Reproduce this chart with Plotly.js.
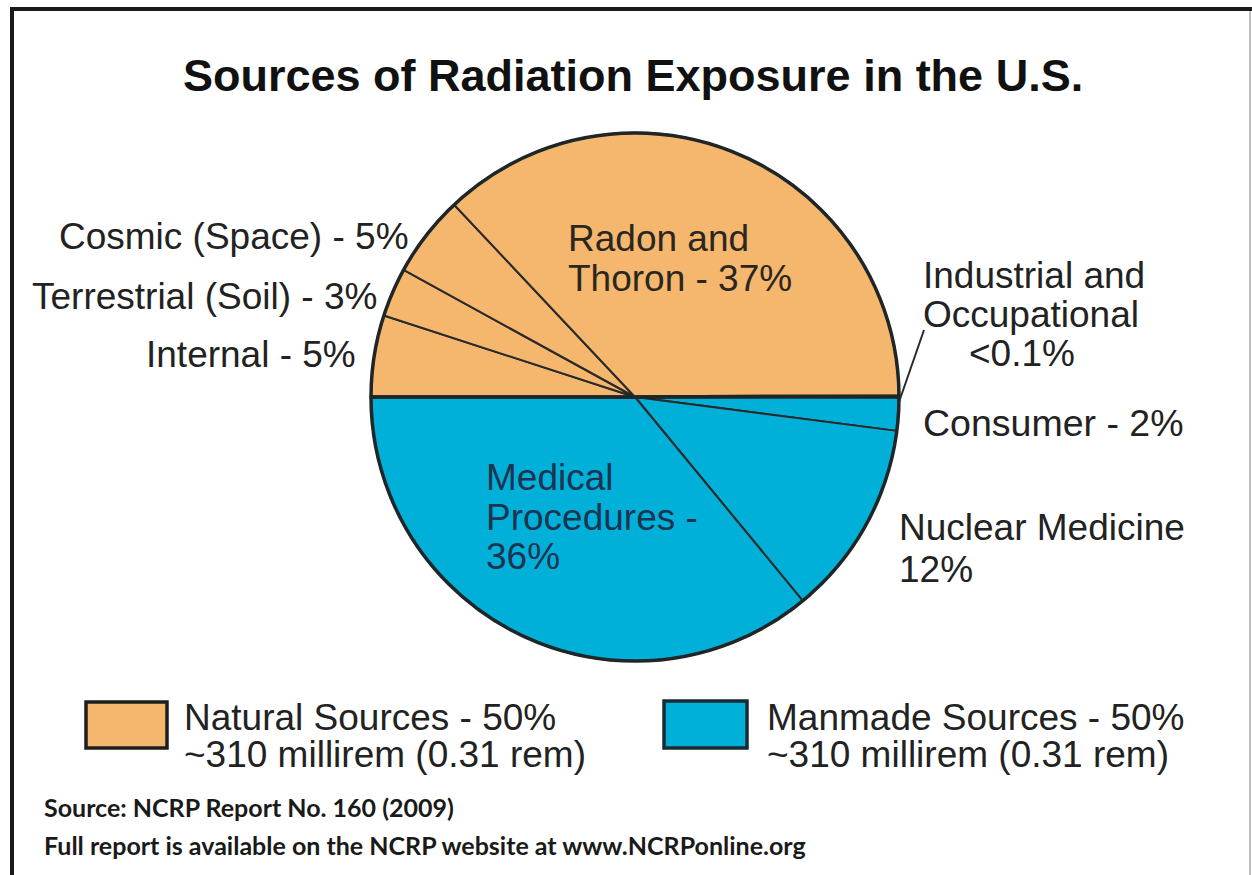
<!DOCTYPE html>
<html>
<head>
<meta charset="utf-8">
<script src="https://cdn.plot.ly/plotly-3.0.1.min.js"></script>
<style>
  html, body { margin: 0; padding: 0; background: #ffffff; }
  #chart { width: 1252px; height: 875px; }
</style>
</head>
<body>
<div id="chart"></div>
<script>
// ---- Data ----
const sliceLabels = ['Internal', 'Terrestrial (Soil)', 'Cosmic (Space)', 'Radon and Thoron',
                     'Industrial and Occupational', 'Consumer', 'Nuclear Medicine', 'Medical Procedures'];
const sliceValues = [5, 3, 5, 37, 0.1, 2, 12, 36];
const sliceGroups = ['Natural', 'Natural', 'Natural', 'Natural', 'Manmade', 'Manmade', 'Manmade', 'Manmade'];
const groupNames  = ['Natural', 'Manmade'];
const groupLabels = ['Natural Sources - 50%', 'Manmade Sources - 50%'];
const groupDose   = ['~310 millirem (0.31 rem)', '~310 millirem (0.31 rem)'];
const titleText   = 'Sources of Radiation Exposure in the U.S.';
const sourceLines = ['Source: NCRP Report No. 160 (2009)',
                     'Full report is available on the NCRP website at www.NCRPonline.org'];

// ---- Styles ----
const ORANGE = '#F5B66E';
const BLUE   = '#00B0D9';
const groupColors = {Natural: ORANGE, Manmade: BLUE};
const sliceColors = sliceGroups.map(g => groupColors[g]);
const groupValues = groupNames.map(g => sliceValues.reduce((s, v, i) => s + (sliceGroups[i] === g ? v : 0), 0));

const W = 1252, H = 875;
const px = x => x / W;
const py = y => 1 - y / H;

// pie placement (center 635,397 radius 264 px)
const cx = 635, cy = 397, R = 264;
const dom = {x: [px(cx - R), px(cx + R)], y: [py(cy + R), py(cy - R)]};

const traces = [
  {
    type: 'pie', values: sliceValues, labels: sliceLabels, sort: false,
    direction: 'clockwise', rotation: -90, domain: dom,
    marker: {colors: sliceColors, line: {color: '#2a2a2a', width: 2}},
    textinfo: 'none', hoverinfo: 'label+value', showlegend: false
  },
  {
    type: 'pie', values: groupValues, labels: groupNames, sort: false,
    direction: 'clockwise', rotation: -90, domain: dom,
    marker: {colors: ['rgba(0,0,0,0)', 'rgba(0,0,0,0)'], line: {color: '#1e2628', width: 3.5}},
    textinfo: 'none', hoverinfo: 'skip', showlegend: false
  }
];

const LF = 'Liberation Sans, Arial, sans-serif';
const TXT = '#222222';
function ann(text, x, y, xanchor, size, color, family) {
  return {text: text, x: px(x), y: py(y), xref: 'paper', yref: 'paper',
          xanchor: xanchor, yanchor: 'middle', showarrow: false,
          font: {family: family || LF, size: size, color: color || TXT}};
}

const annotations = [
  ann('<b>' + titleText + '</b>', 633, 75, 'center', 45, '#111111'),
  ann('Cosmic (Space) - 5%', 411, 236, 'right', 37),
  ann('Terrestrial (Soil) - 3%', 379, 296, 'right', 37),
  ann('Internal - 5%', 358, 354, 'right', 37),
  ann('Radon and', 566, 238, 'left', 37, '#2a2620'),
  ann('Thoron - 37%', 566, 278, 'left', 37, '#2a2620'),
  ann('Industrial and', 921, 275, 'left', 37),
  ann('Occupational', 921, 314, 'left', 37),
  ann('&lt;0.1%', 967, 353, 'left', 37),
  ann('Consumer - 2%', 921, 423, 'left', 37.5),
  ann('Medical', 484, 477, 'left', 37, '#1d3450'),
  ann('Procedures -', 484, 517, 'left', 37, '#1d3450'),
  ann('36%', 484, 556, 'left', 37, '#1d3450'),
  ann('Nuclear Medicine', 897, 527, 'left', 37),
  ann('12%', 897, 569, 'left', 37),
  ann(groupLabels[0], 182, 717, 'left', 37),
  ann(groupDose[0], 182, 754, 'left', 37),
  ann(groupLabels[1], 765, 717, 'left', 37),
  ann(groupDose[1], 765, 754, 'left', 37),
  ann('<b>' + sourceLines[0] + '</b>', 42, 807, 'left', 25, '#1a1a1a', 'Lato, sans-serif'),
  ann('<b>' + sourceLines[1] + '</b>', 42, 845, 'left', 25, '#1a1a1a', 'Lato, sans-serif')
];

const shapes = [
  // frame
  {type: 'line', xref: 'paper', yref: 'paper', x0: px(10), x1: px(1252), y0: py(9), y1: py(9), line: {color: '#1a1a1a', width: 4}},
  {type: 'line', xref: 'paper', yref: 'paper', x0: px(12), x1: px(12), y0: py(8), y1: py(875), line: {color: '#1a1a1a', width: 4}},
  {type: 'line', xref: 'paper', yref: 'paper', x0: px(1250), x1: px(1250), y0: py(11), y1: py(875), line: {color: '#aaaaaa', width: 1.5}},
  // leader line for industrial slice
  {type: 'line', xref: 'paper', yref: 'paper', x0: px(899), x1: px(924), y0: py(402), y1: py(330), line: {color: '#2a2a2a', width: 2}},
  // legend boxes
  {type: 'rect', xref: 'paper', yref: 'paper', x0: px(86), x1: px(167), y0: py(702), y1: py(748), fillcolor: groupColors.Natural, line: {color: '#1e1e1e', width: 3.5}},
  {type: 'rect', xref: 'paper', yref: 'paper', x0: px(664), x1: px(747), y0: py(701), y1: py(748), fillcolor: groupColors.Manmade, line: {color: '#1a2a33', width: 3.5}}
];

const layout = {
  width: W, height: H,
  margin: {l: 0, r: 0, t: 0, b: 0, pad: 0},
  paper_bgcolor: '#ffffff', plot_bgcolor: '#ffffff',
  showlegend: false,
  annotations: annotations,
  shapes: shapes
};

Plotly.newPlot('chart', traces, layout, {displayModeBar: false, staticPlot: true});
</script>
</body>
</html>
